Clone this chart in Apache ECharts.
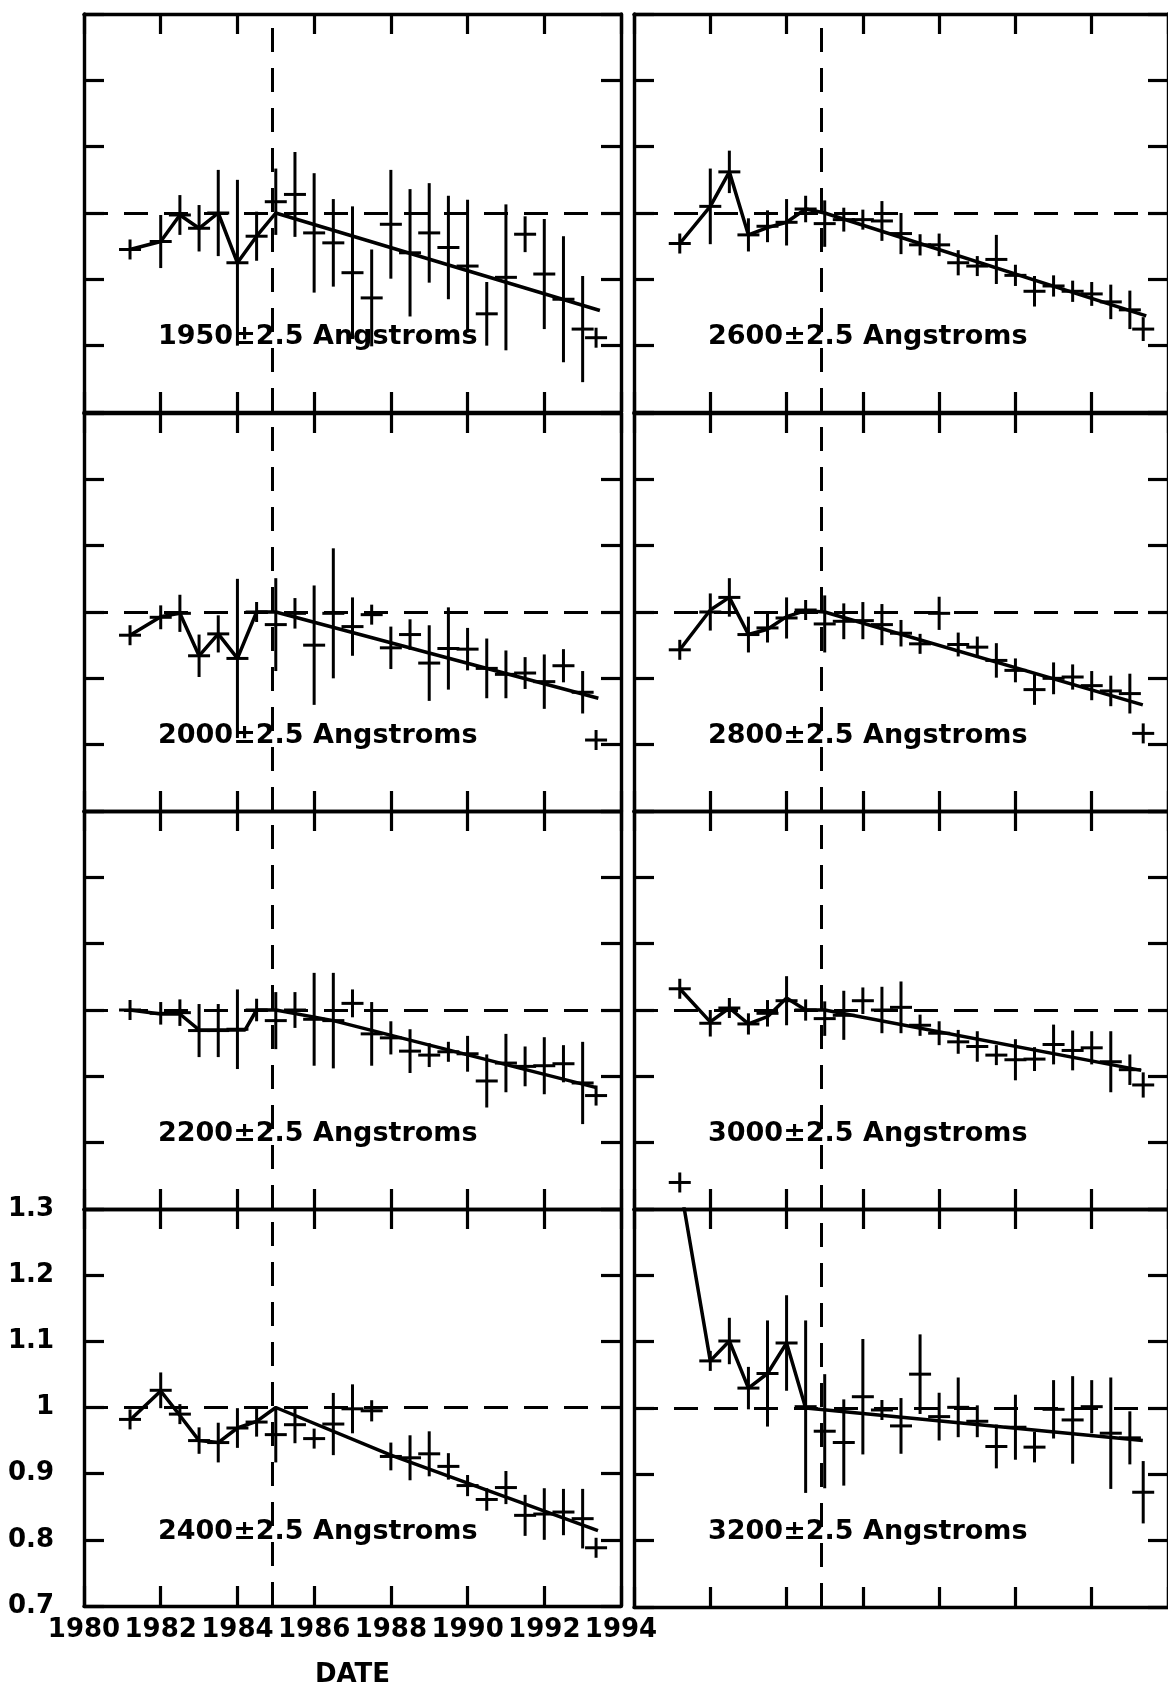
<!DOCTYPE html>
<html>
<head>
<meta charset="utf-8">
<script src="https://cdn.jsdelivr.net/npm/echarts@6/dist/echarts.min.js"></script>
<style>
  html, body { margin: 0; padding: 0; background: #fff; }
  #chart { width: 1168px; height: 1689px; }
</style>
</head>
<body>
<div id="chart"></div>
<script>
// ---------- DATA ----------
const dates = [1981.2, 1982.0, 1982.5, 1983.0, 1983.5, 1984.0, 1984.5, 1985.0, 1985.5, 1986.0, 1986.5, 1987.0,
               1987.5, 1988.0, 1988.5, 1989.0, 1989.5, 1990.0, 1990.5, 1991.0, 1991.5, 1992.0, 1992.5, 1993.0, 1993.35];

const xTicks = [1980, 1982, 1984, 1986, 1988, 1990, 1992, 1994];
const yTicks = [0.7, 0.8, 0.9, 1.0, 1.1, 1.2, 1.3];
const breakDate = 1984.9;
const refLevel = 1.0;

const vals1950 = [0.945, 0.957, 0.997, 0.977, 1.000, 0.925, 0.965, 1.017, 1.028, 0.970, 0.955, 0.910, 0.872, 0.983, 0.940, 0.970, 0.948, 0.920, 0.848, 0.903, 0.968, 0.908, 0.870, 0.825, 0.812];
const errs1950 = [0.015, 0.040, 0.030, 0.035, 0.065, 0.125, 0.037, 0.050, 0.064, 0.090, 0.066, 0.100, 0.073, 0.082, 0.096, 0.075, 0.078, 0.100, 0.048, 0.110, 0.027, 0.083, 0.095, 0.080, 0.010];
const trendX1950 = [1981.2, 1982.0, 1982.5, 1983.0, 1983.5, 1984.0, 1984.5, 1985.0, 1993.45];
const trendY1950 = [0.945, 0.957, 0.997, 0.977, 1.000, 0.925, 0.965, 1.000, 0.853];

const vals2000 = [0.965, 0.992, 0.998, 0.934, 0.967, 0.930, 1.000, 0.981, 0.998, 0.950, 0.998, 0.978, 0.996, 0.946, 0.966, 0.923, 0.945, 0.944, 0.915, 0.906, 0.908, 0.895, 0.919, 0.879, 0.807];
const errs2000 = [0.014, 0.018, 0.028, 0.032, 0.028, 0.120, 0.015, 0.070, 0.023, 0.090, 0.098, 0.044, 0.015, 0.032, 0.023, 0.057, 0.062, 0.032, 0.045, 0.036, 0.024, 0.041, 0.025, 0.032, 0.014];
const trendX2000 = [1981.2, 1982.0, 1982.5, 1983.0, 1983.5, 1984.0, 1984.5, 1985.0, 1993.41];
const trendY2000 = [0.965, 0.993, 0.998, 0.934, 0.967, 0.930, 1.000, 1.000, 0.870];

const vals2200 = [1.000, 0.995, 0.996, 0.969, 0.969, 0.971, 1.000, 0.984, 1.000, 0.986, 0.984, 1.010, 0.964, 0.958, 0.938, 0.932, 0.937, 0.934, 0.893, 0.920, 0.915, 0.916, 0.919, 0.890, 0.871];
const errs2200 = [0.014, 0.017, 0.020, 0.040, 0.040, 0.060, 0.017, 0.043, 0.027, 0.070, 0.072, 0.021, 0.048, 0.025, 0.033, 0.018, 0.015, 0.027, 0.040, 0.044, 0.030, 0.043, 0.028, 0.062, 0.014];
const trendX2200 = [1981.2, 1982.0, 1982.5, 1983.0, 1984.2, 1984.5, 1985.0, 1986.5, 1993.36];
const trendY2200 = [1.000, 0.994, 0.994, 0.970, 0.970, 1.000, 1.000, 0.984, 0.883];

const vals2400 = [0.982, 1.026, 0.990, 0.950, 0.947, 0.969, 0.978, 0.959, 0.974, 0.953, 0.975, 0.998, 0.995, 0.926, 0.924, 0.930, 0.911, 0.882, 0.861, 0.879, 0.837, 0.839, 0.842, 0.832, 0.788];
const errs2400 = [0.014, 0.027, 0.015, 0.020, 0.030, 0.030, 0.022, 0.042, 0.028, 0.015, 0.047, 0.037, 0.016, 0.021, 0.034, 0.034, 0.020, 0.016, 0.017, 0.025, 0.031, 0.039, 0.035, 0.045, 0.015];
const trendX2400 = [1981.2, 1982.0, 1982.5, 1983.0, 1983.5, 1984.0, 1984.5, 1985.0, 1988.0, 1993.4];
const trendY2400 = [0.981, 1.025, 0.988, 0.950, 0.947, 0.969, 0.979, 1.000, 0.928, 0.814];

const vals2600 = [0.954, 1.010, 1.062, 0.967, 0.980, 0.986, 1.006, 0.984, 0.990, 0.990, 0.988, 0.969, 0.952, 0.952, 0.925, 0.920, 0.930, 0.906, 0.882, 0.890, 0.882, 0.878, 0.866, 0.854, 0.825];
const errs2600 = [0.015, 0.057, 0.032, 0.025, 0.024, 0.035, 0.020, 0.035, 0.018, 0.012, 0.030, 0.031, 0.016, 0.017, 0.019, 0.014, 0.037, 0.016, 0.023, 0.016, 0.016, 0.018, 0.026, 0.029, 0.018];
const trendX2600 = [1981.2, 1982.0, 1982.5, 1983.0, 1983.5, 1984.0, 1984.5, 1985.0, 1993.43];
const trendY2600 = [0.954, 1.010, 1.062, 0.967, 0.978, 0.986, 1.006, 1.000, 0.845];

const vals2800 = [0.943, 1.000, 1.022, 0.966, 0.976, 0.991, 1.003, 0.982, 0.986, 0.987, 0.981, 0.968, 0.952, 0.998, 0.951, 0.947, 0.927, 0.912, 0.883, 0.900, 0.902, 0.889, 0.881, 0.877, 0.817];
const errs2800 = [0.014, 0.028, 0.029, 0.027, 0.022, 0.031, 0.012, 0.043, 0.027, 0.028, 0.031, 0.020, 0.015, 0.025, 0.018, 0.016, 0.026, 0.018, 0.023, 0.024, 0.019, 0.022, 0.023, 0.030, 0.015];
const trendX2800 = [1981.2, 1982.0, 1982.5, 1983.0, 1983.5, 1984.0, 1984.5, 1985.0, 1993.34];
const trendY2800 = [0.943, 1.003, 1.022, 0.966, 0.974, 0.993, 1.002, 1.000, 0.860];

const vals3000 = [1.032, 0.980, 1.003, 0.979, 0.995, 1.014, 1.000, 0.987, 0.992, 1.014, 1.000, 1.004, 0.977, 0.965, 0.952, 0.945, 0.932, 0.925, 0.926, 0.948, 0.939, 0.943, 0.922, 0.910, 0.887];
const errs3000 = [0.015, 0.020, 0.015, 0.016, 0.020, 0.037, 0.016, 0.026, 0.037, 0.020, 0.035, 0.039, 0.016, 0.018, 0.018, 0.023, 0.015, 0.031, 0.018, 0.030, 0.030, 0.025, 0.046, 0.023, 0.019];
const trendX3000 = [1981.2, 1982.0, 1982.5, 1983.0, 1983.5, 1984.0, 1984.5, 1985.0, 1993.3];
const trendY3000 = [1.032, 0.982, 1.003, 0.979, 0.990, 1.018, 1.000, 1.000, 0.909];

const vals3200 = [1.340, 1.071, 1.101, 1.030, 1.052, 1.098, 1.002, 0.965, 0.948, 1.017, 0.997, 0.973, 1.051, 0.987, 1.001, 0.980, 0.942, 0.971, 0.941, 0.998, 0.982, 1.002, 0.962, 0.955, 0.873];
const errs3200 = [0.015, 0.015, 0.035, 0.032, 0.080, 0.072, 0.130, 0.086, 0.065, 0.087, 0.015, 0.042, 0.060, 0.036, 0.045, 0.024, 0.033, 0.049, 0.023, 0.044, 0.066, 0.040, 0.084, 0.040, 0.047];
const trendX3200 = [1981.2, 1982.0, 1982.5, 1983.0, 1983.5, 1984.0, 1984.5, 1993.34];
const trendY3200 = [1.340, 1.071, 1.101, 1.030, 1.052, 1.098, 1.000, 0.951];

const wavelengths = ['1950', '2000', '2200', '2400', '2600', '2800', '3000', '3200'];
const panelVals   = [vals1950, vals2000, vals2200, vals2400, vals2600, vals2800, vals3000, vals3200];
const panelErrs   = [errs1950, errs2000, errs2200, errs2400, errs2600, errs2800, errs3000, errs3200];
const panelTrendX = [trendX1950, trendX2000, trendX2200, trendX2400, trendX2600, trendX2800, trendX3000, trendX3200];
const panelTrendY = [trendY1950, trendY2000, trendY2200, trendY2400, trendY2600, trendY2800, trendY3000, trendY3200];

// ---------- LAYOUT ----------
const COL_LEFT = [84, 634];
const PANEL_W = 537;
const ROW_TOP = [14, 413, 811, 1209];
const PANEL_H = 398;
const FONT = '"DejaVu Sans", "Liberation Sans", sans-serif';
const INK = '#000';

const chart = echarts.init(document.getElementById('chart'), null, { renderer: 'canvas' });

function renderCross(params, api) {
  const x = api.value(0), v = api.value(1), e = api.value(2);
  const c = api.coord([x, v]);
  const hi = api.coord([x, v + e])[1];
  const lo = api.coord([x, v - e])[1];
  const top = Math.min(hi, c[1] - 10);
  const bot = Math.max(lo, c[1] + 10);
  return {
    type: 'group',
    children: [
      { type: 'line', shape: { x1: c[0], y1: top, x2: c[0], y2: bot }, style: { stroke: INK, lineWidth: 3 } },
      { type: 'line', shape: { x1: c[0] - 11, y1: c[1], x2: c[0] + 11, y2: c[1] }, style: { stroke: INK, lineWidth: 3 } }
    ]
  };
}

const grids = [], xAxes = [], yAxes = [], series = [], graphics = [];
const LABELLED = 3; // 2400 panel carries tick labels

wavelengths.forEach((wl, i) => {
  const col = i < 4 ? 0 : 1;
  const row = i % 4;
  grids.push({ left: COL_LEFT[col], top: ROW_TOP[row], width: PANEL_W, height: PANEL_H, containLabel: false });

  const lineSty = { show: true, onZero: false, lineStyle: { color: INK, width: 3.4 } };
  const tickSty = { show: true, inside: true, length: 20, lineStyle: { color: INK, width: 3.2 } };

  const xBase = {
    type: 'value', gridIndex: i, min: 1980, max: 1994, interval: 2,
    axisLine: lineSty, axisTick: tickSty, splitLine: { show: false }
  };
  xAxes.push(Object.assign({}, xBase, {
    position: 'bottom',
    axisLabel: {
      show: i === LABELLED, margin: 11, color: INK, fontFamily: FONT, fontWeight: 'bold', fontSize: 26,
      showMinLabel: true, showMaxLabel: true, hideOverlap: false, interval: 0,
      formatter: v => String(Math.round(v))
    },
    name: i === LABELLED ? 'DATE' : '',
    nameLocation: 'middle', nameGap: 56,
    nameTextStyle: { color: INK, fontFamily: FONT, fontWeight: 'bold', fontSize: 26 }
  }));
  xAxes.push(Object.assign({}, xBase, { position: 'top', axisLabel: { show: false } }));

  const yBase = {
    type: 'value', gridIndex: i, min: 0.7, max: 1.3, interval: 0.1,
    axisLine: lineSty, axisTick: tickSty, splitLine: { show: false }
  };
  yAxes.push(Object.assign({}, yBase, {
    position: 'left',
    axisLabel: {
      show: i === LABELLED, margin: 30, color: INK, fontFamily: FONT, fontWeight: 'bold', fontSize: 26,
      showMinLabel: true, showMaxLabel: true,
      formatter: v => String(Math.round(v * 10) / 10)
    }
  }));
  yAxes.push(Object.assign({}, yBase, { position: 'right', axisLabel: { show: false } }));

  const vals = panelVals[i], errs = panelErrs[i];
  series.push({
    type: 'custom',
    xAxisIndex: 2 * i, yAxisIndex: 2 * i,
    renderItem: renderCross,
    clip: false,
    silent: true,
    data: dates.map((d, k) => [d, vals[k], errs[k]]),
    z: 3
  });

  const tx = panelTrendX[i], ty = panelTrendY[i];
  series.push({
    type: 'line',
    xAxisIndex: 2 * i, yAxisIndex: 2 * i,
    data: tx.map((x, k) => [x, ty[k]]),
    symbol: 'none',
    clip: true,
    silent: true,
    lineStyle: { color: INK, width: 3.5 },
    z: 4,
    markLine: {
      silent: true,
      symbol: ['none', 'none'],
      label: { show: false },
      lineStyle: { color: INK, width: 3, type: [24, 16] },
      data: [{ yAxis: refLevel }, { xAxis: breakDate }]
    }
  });

  graphics.push({
    type: 'text',
    left: COL_LEFT[col] + 74,
    top: ROW_TOP[row] + 309,
    silent: true,
    style: {
      text: wl + '±2.5 Angstroms',
      font: 'bold 27px ' + FONT,
      fill: INK
    },
    z: 10
  });
});

chart.setOption({
  backgroundColor: '#fff',
  animation: false,
  grid: grids,
  xAxis: xAxes,
  yAxis: yAxes,
  series: series,
  graphic: graphics
});
</script>
</body>
</html>
